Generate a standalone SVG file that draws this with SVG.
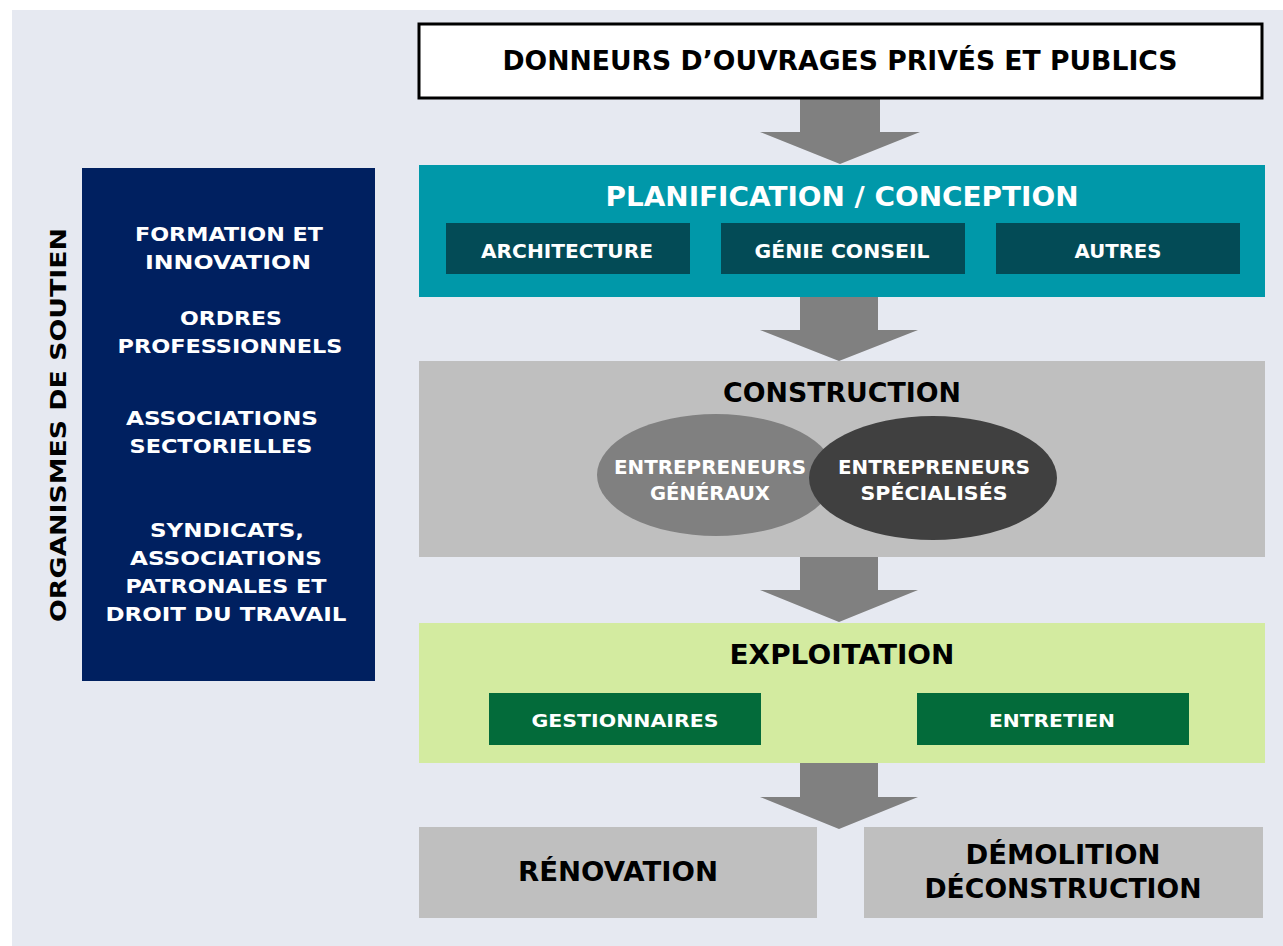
<svg xmlns="http://www.w3.org/2000/svg" width="1283" height="946" viewBox="0 0 1283 946">
<style>
.t{font-family:"DejaVu Sans","Liberation Sans",sans-serif;font-weight:bold;text-anchor:middle}
.w{fill:#ffffff}
.k{fill:#000000}
.arrow{fill:#808080}
</style>
<rect x="0" y="0" width="1283" height="946" fill="#ffffff"/>
<rect x="12" y="10" width="1271" height="936" fill="#E6E9F1"/>
<g id="connectors">
<path class="arrow" d="M800,99 H880 V132 H920 L840,164 L760,132 H800 Z"/>
<path class="arrow" d="M800,297 H878 V330 H918 L839,361 L760,330 H800 Z"/>
<path class="arrow" d="M800,557 H878 V590 H918 L839,622 L760,590 H800 Z"/>
<path class="arrow" d="M800,763 H878 V797 H918 L839,829 L760,797 H800 Z"/>
</g>
<g id="donneurs">
<rect x="419" y="24" width="843" height="74" fill="#ffffff" stroke="#000000" stroke-width="3"/>
<text class="t k" x="840" y="70" font-size="26" textLength="675" lengthAdjust="spacingAndGlyphs">DONNEURS D’OUVRAGES PRIVÉS ET PUBLICS</text>
</g>
<g id="planification">
<rect x="419" y="165" width="846" height="132" fill="#0098A9"/>
<text class="t w" x="842" y="206" font-size="26" textLength="473" lengthAdjust="spacingAndGlyphs">PLANIFICATION / CONCEPTION</text>
</g>
<g id="architecture">
<rect x="446" y="223" width="244" height="51" fill="#034B56"/>
<text class="t w" x="567" y="258" font-size="19" textLength="172" lengthAdjust="spacingAndGlyphs">ARCHITECTURE</text>
</g>
<g id="genie-conseil">
<rect x="721" y="223" width="244" height="51" fill="#034B56"/>
<text class="t w" x="842" y="258" font-size="19" textLength="175" lengthAdjust="spacingAndGlyphs">GÉNIE CONSEIL</text>
</g>
<g id="autres">
<rect x="996" y="223" width="244" height="51" fill="#034B56"/>
<text class="t w" x="1118" y="258" font-size="19" textLength="87" lengthAdjust="spacingAndGlyphs">AUTRES</text>
</g>
<g id="construction">
<rect x="419" y="361" width="846" height="196" fill="#BFBFBF"/>
<text class="t k" x="842" y="402" font-size="26" textLength="238" lengthAdjust="spacingAndGlyphs">CONSTRUCTION</text>
</g>
<g id="entrepreneurs-generaux">
<ellipse cx="716" cy="475" rx="119" ry="61" fill="#808080"/>
<text class="t w" x="710" y="474" font-size="19" textLength="192" lengthAdjust="spacingAndGlyphs">ENTREPRENEURS</text>
<text class="t w" x="710" y="500" font-size="19" textLength="120" lengthAdjust="spacingAndGlyphs">GÉNÉRAUX</text>
</g>
<g id="entrepreneurs-specialises">
<ellipse cx="933" cy="478" rx="124" ry="62" fill="#404040"/>
<text class="t w" x="934" y="474" font-size="19" textLength="192" lengthAdjust="spacingAndGlyphs">ENTREPRENEURS</text>
<text class="t w" x="934" y="500" font-size="19" textLength="147" lengthAdjust="spacingAndGlyphs">SPÉCIALISÉS</text>
</g>
<g id="exploitation">
<rect x="419" y="623" width="846" height="140" fill="#D3EBA0"/>
<text class="t k" x="842" y="664" font-size="26" textLength="225" lengthAdjust="spacingAndGlyphs">EXPLOITATION</text>
</g>
<g id="gestionnaires">
<rect x="489" y="693" width="272" height="52" fill="#036B3A"/>
<text class="t w" x="625" y="727" font-size="18" textLength="187" lengthAdjust="spacingAndGlyphs">GESTIONNAIRES</text>
</g>
<g id="entretien">
<rect x="917" y="693" width="272" height="52" fill="#036B3A"/>
<text class="t w" x="1052" y="727" font-size="18" textLength="126" lengthAdjust="spacingAndGlyphs">ENTRETIEN</text>
</g>
<g id="renovation">
<rect x="419" y="827" width="398" height="91" fill="#BFBFBF"/>
<text class="t k" x="618" y="881" font-size="26" textLength="200" lengthAdjust="spacingAndGlyphs">RÉNOVATION</text>
</g>
<g id="demolition">
<rect x="864" y="827" width="399" height="91" fill="#BFBFBF"/>
<text class="t k" x="1063" y="864" font-size="26" textLength="195" lengthAdjust="spacingAndGlyphs">DÉMOLITION</text>
<text class="t k" x="1063" y="898" font-size="26" textLength="277" lengthAdjust="spacingAndGlyphs">DÉCONSTRUCTION</text>
</g>
<g id="organismes">
<rect x="82" y="168" width="293" height="513" fill="#002060"/>
<text class="t w" x="229" y="241" font-size="20" textLength="188" lengthAdjust="spacingAndGlyphs">FORMATION ET</text>
<text class="t w" x="228" y="269" font-size="20" textLength="166" lengthAdjust="spacingAndGlyphs">INNOVATION</text>
<text class="t w" x="231" y="325" font-size="20" textLength="102" lengthAdjust="spacingAndGlyphs">ORDRES</text>
<text class="t w" x="230" y="353" font-size="20" textLength="225" lengthAdjust="spacingAndGlyphs">PROFESSIONNELS</text>
<text class="t w" x="222" y="425" font-size="20" textLength="192" lengthAdjust="spacingAndGlyphs">ASSOCIATIONS</text>
<text class="t w" x="221" y="453" font-size="20" textLength="183" lengthAdjust="spacingAndGlyphs">SECTORIELLES</text>
<text class="t w" x="227" y="537" font-size="20" textLength="154" lengthAdjust="spacingAndGlyphs">SYNDICATS,</text>
<text class="t w" x="226" y="565" font-size="20" textLength="192" lengthAdjust="spacingAndGlyphs">ASSOCIATIONS</text>
<text class="t w" x="226" y="593" font-size="20" textLength="201" lengthAdjust="spacingAndGlyphs">PATRONALES ET</text>
<text class="t w" x="226" y="621" font-size="20" textLength="241" lengthAdjust="spacingAndGlyphs">DROIT DU TRAVAIL</text>
</g>
<g id="organismes-label">
<text class="t k" transform="translate(66,425) rotate(-90)" x="0" y="0" font-size="22" textLength="394" lengthAdjust="spacingAndGlyphs">ORGANISMES DE SOUTIEN</text>
</g>
</svg>
